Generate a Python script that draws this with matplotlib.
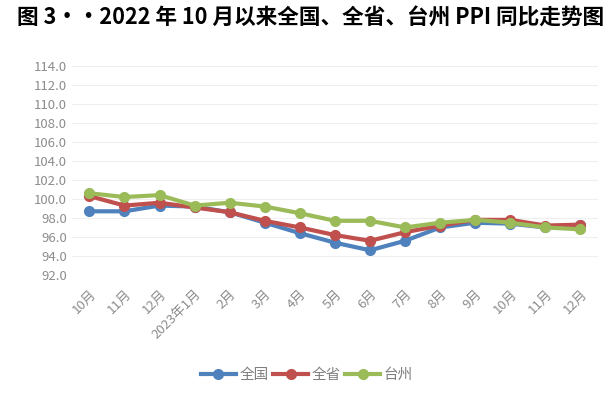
import matplotlib.pyplot as plt
from matplotlib.ticker import FormatStrFormatter

plt.rcParams['font.family'] = ['Noto Sans CJK SC', 'DejaVu Sans']

months = ['10月', '11月', '12月', '2023年1月', '2月', '3月', '4月', '5月',
          '6月', '7月', '8月', '9月', '10月', '11月', '12月']
national = [98.7, 98.7, 99.3, 99.2, 98.6, 97.5, 96.4, 95.4, 94.6, 95.6,
            97.0, 97.5, 97.4, 97.0, 97.3]
province = [100.3, 99.3, 99.6, 99.1, 98.6, 97.7, 97.0, 96.2, 95.6, 96.5,
            97.2, 97.8, 97.8, 97.2, 97.3]
taizhou = [100.6, 100.2, 100.4, 99.3, 99.6, 99.2, 98.5, 97.7, 97.7, 97.0,
           97.5, 97.8, 97.5, 97.0, 96.8]

fig = plt.figure(figsize=(6.14, 3.94), dpi=100)
ax = fig.add_axes([0.117, 0.302, 0.857, 0.531])

x = range(len(months))
ax.plot(x, national, color='#4F81BD', lw=3, marker='o', ms=7, label='全国')
ax.plot(x, province, color='#C0504D', lw=3, marker='o', ms=7, label='全省')
ax.plot(x, taizhou, color='#9BBB59', lw=3, marker='o', ms=7, label='台州')

ax.set_xlim(-0.5, len(months) - 0.5)
ax.set_ylim(92, 114)
ax.set_yticks(range(92, 115, 2))
ax.yaxis.set_major_formatter(FormatStrFormatter('%.1f'))
ax.set_xticks(list(x))
ax.set_xticklabels(months, rotation=45, ha='right', rotation_mode='anchor')
ax.tick_params(colors='#8C8C8C', labelsize=9.5, length=0)
ax.tick_params(axis='x', pad=9)
ax.grid(axis='y', color='#EFEFEF', lw=0.8)
for s in ax.spines.values():
    s.set_visible(False)

fig.text(0.028, 0.955, '图 3··2022 年 10 月以来全国、全省、台州 PPI 同比走势图',
         fontsize=15.6, fontweight='bold', va='center', ha='left')

leg = fig.legend(loc='center', bbox_to_anchor=(0.5, 0.048), ncol=3, frameon=False,
                 fontsize=10.5, handlelength=2.4, columnspacing=0.3, handletextpad=0.25)
for t in leg.get_texts():
    t.set_color('#7F7F7F')

fig.savefig('out.png', dpi=100)
